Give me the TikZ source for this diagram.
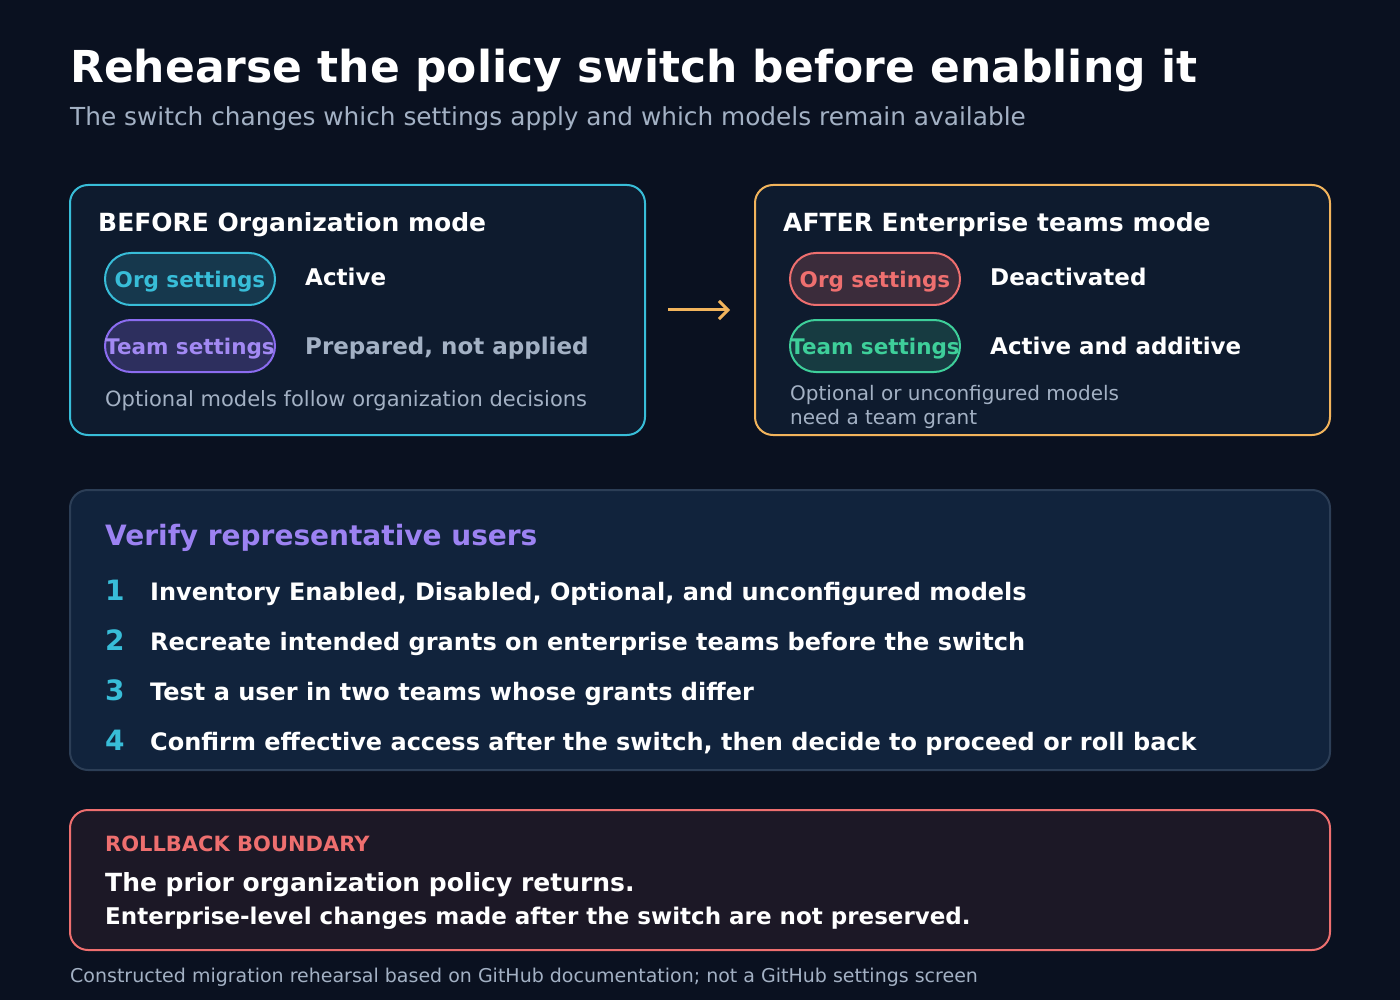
\documentclass[tikz,border=0pt]{standalone}
\usepackage{fontspec}
\setmainfont{DejaVu Sans}
\usetikzlibrary{positioning,arrows.meta}
\definecolor{bgc}{HTML}{0A1120}
\definecolor{boxc}{HTML}{0E1B2E}
\definecolor{verc}{HTML}{11233C}
\definecolor{rbc}{HTML}{1C1826}
\definecolor{cyanc}{HTML}{38BDD8}
\definecolor{orangec}{HTML}{F2B45C}
\definecolor{purplec}{HTML}{8B6CF0}
\definecolor{redc}{HTML}{EE6F6F}
\definecolor{greenc}{HTML}{3ECF9A}
\definecolor{greyc}{HTML}{A3B1C4}
\definecolor{linec}{HTML}{2C3E56}
\tikzset{
  panel/.style={draw, line width=2pt, rounded corners=18pt},
  pill/.style={draw, line width=2pt, rounded corners=26pt, minimum width=170pt, minimum height=52pt, inner sep=0pt, text depth=0pt, font=\fontsize{21.5}{21.5}\selectfont\bfseries},
  txt/.style={anchor=base west, inner sep=0pt, text=white},
  item/.style={txt, font=\fontsize{24}{24}\selectfont\bfseries},
  num/.style={txt, text=cyanc, font=\fontsize{28}{28}\selectfont\bfseries},
}
\begin{document}
\begin{tikzpicture}[x=1pt, y=-1pt]
    \fill[bgc] (0,0) rectangle (1400,1000);
    \useasboundingbox (0,0) rectangle (1400,1000);
    \node[txt, font=\fontsize{44}{44}\selectfont\bfseries] (title) at (70,83) {Rehearse the policy switch before enabling it};
    \node[txt, text=greyc, font=\fontsize{24.8}{24.8}\selectfont] (sub) at (70,126) {The switch changes which settings apply and which models remain available};
    % before / after panels
    \draw[panel, cyanc, fill=boxc] (70,185) rectangle (645,435);
    \draw[panel, orangec, fill=boxc] (755,185) rectangle (1330,435);
    \node[txt, font=\fontsize{25}{25}\selectfont\bfseries] (bhead) at (98,232) {BEFORE Organization mode};
    \node[txt, font=\fontsize{25}{25}\selectfont\bfseries] (ahead) at (783,232) {AFTER Enterprise teams mode};
    \node[pill, cyanc, fill=cyanc!18!boxc, text=cyanc] (borg) at (190,279) {Org settings};
    \node[pill, purplec, fill=purplec!25!boxc, text=purplec!80!white] (bteam) at (190,346) {Team settings};
    \node[pill, redc, fill=redc!20!boxc, text=redc] (aorg) at (875,279) {Org settings};
    \node[pill, greenc, fill=greenc!18!boxc, text=greenc] (ateam) at (875,346) {Team settings};
    \node[txt, font=\fontsize{23}{23}\selectfont\bfseries] (bact) at (305,286) {Active};
    \node[txt, text=greyc, font=\fontsize{23}{23}\selectfont\bfseries] (bprep) at (305,354) {Prepared, not applied};
    \node[txt, font=\fontsize{23}{23}\selectfont\bfseries] (adeact) at (990,286) {Deactivated};
    \node[txt, font=\fontsize{23}{23}\selectfont\bfseries] (aadd) at (990,354) {Active and additive};
    \node[txt, text=greyc, font=\fontsize{21}{21}\selectfont] (bnote) at (105,406) {Optional models follow organization decisions};
    \node[txt, text=greyc, font=\fontsize{20}{20}\selectfont] (anote) at (790,400) {Optional or unconfigured models};
    \node[txt, text=greyc, font=\fontsize{20}{20}\selectfont] (anote2) at (790,424) {need a team grant};
    \coordinate (arrs) at (668,310);
    \coordinate (arre) at (730,310);
    \draw[orangec, line width=3pt, ->, >={Straight Barb[length=9pt]}] (arrs) -- (arre);
    % verification steps
    \draw[panel, linec, fill=verc] (70,490) rectangle (1330,770);
    \node[txt, text=purplec!85!white, font=\fontsize{28}{28}\selectfont\bfseries] (vhead) at (105,545) {Verify representative users};
    \foreach \n/\t in {1/{Inventory Enabled, Disabled, Optional, and unconfigured models},
                       2/{Recreate intended grants on enterprise teams before the switch},
                       3/{Test a user in two teams whose grants differ},
                       4/{Confirm effective access after the switch, then decide to proceed or roll back}}{
      \node[num] (n\n) at (105,550+50*\n) {\n};
      \node[item] (s\n) at (150,550+50*\n) {\t};
    }
    % rollback
    \draw[panel, redc, fill=rbc] (70,810) rectangle (1330,950);
    \node[txt, text=redc, font=\fontsize{21}{21}\selectfont\bfseries] (rhead) at (105,851) {ROLLBACK BOUNDARY};
    \node[txt, font=\fontsize{25}{25}\selectfont\bfseries] (r1) at (105,891) {The prior organization policy returns.};
    \node[txt, font=\fontsize{23}{23}\selectfont\bfseries] (r2) at (105,924) {Enterprise-level changes made after the switch are not preserved.};
    \node[txt, text=greyc, font=\fontsize{19}{19}\selectfont] (foot) at (70,982) {Constructed migration rehearsal based on GitHub documentation; not a GitHub settings screen};
\end{tikzpicture}
\end{document}
